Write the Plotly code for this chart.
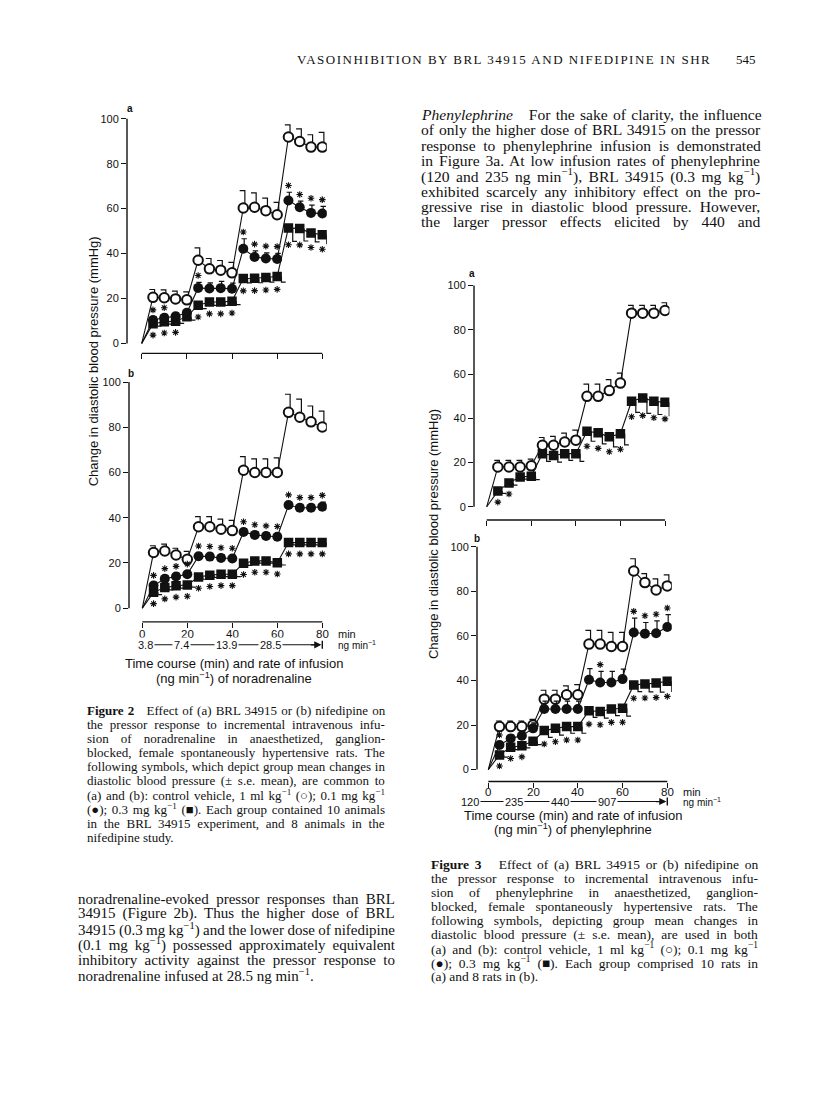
import re
import plotly.graph_objects as go

OFF = 8            # browser body margin
W, H = 800, 1080   # figure size placed at (8, 8) in the 816x1104 window

# ---------------- data ----------------
TIME = [5, 10, 15, 20, 25, 30, 35, 40, 45, 50, 55, 60, 65, 70, 75, 80]
TICKS_X = [0, 20, 40, 60, 80]
TICKS_Y = [0, 20, 40, 60, 80, 100]
NA_RATES = ["3.8", "7.4", "13.9", "28.5"]
NA_RATE_POS = [1.6, 17.2, 37.2, 57.0]
PE_RATES = ["120", "235", "440", "907"]
PE_RATE_POS = [-8.0, 11.5, 32.0, 53.0]

# Figure 2a (BRL 34915, noradrenaline)
ctrl_2a = [20.5, 20.3, 19.8, 19.4, 37.0, 33.2, 32.6, 31.4, 60.3, 60.6, 59.1, 57.3, 91.9, 89.9, 87.4, 87.4]
ctrl_2a_se = [3.5, 3.5, 3.5, 3.5, 5.5, 4.6, 4.3, 4.7, 7.7, 6.4, 5.6, 5.5, 5.4, 5.6, 5.5, 6.6]
lo_2a = [10.4, 11.4, 12.1, 13.6, 24.7, 24.4, 24.6, 24.3, 42.1, 38.5, 37.8, 37.6, 63.6, 60.6, 58.1, 57.8]
lo_2a_se = [1.5, 1.5, 1.5, 1.5, 2.5, 2.5, 3.0, 2.5, 4.5, 2.7, 2.5, 2.5, 3.7, 2.7, 3.5, 3.2]
lo_2a_sig = [1, 1, 0, 0, 1, 0, 0, 0, 1, 1, 1, 1, 1, 1, 1, 1]
hi_2a = [8.7, 9.6, 9.9, 11.9, 17.0, 18.4, 18.4, 18.8, 28.9, 29.0, 29.3, 29.8, 51.4, 51.1, 49.2, 48.4]
hi_2a_se = [1.0, 1.0, 1.0, 1.5, 1.5, 1.5, 1.5, 1.5, 2.0, 2.0, 2.0, 2.5, 6.0, 5.5, 4.0, 4.0]
hi_2a_sig = [1, 1, 1, 0, 1, 1, 1, 1, 1, 1, 1, 1, 1, 1, 1, 1]

# Figure 2b (nifedipine, noradrenaline)
ctrl_2b = [24.6, 25.3, 23.5, 21.6, 36.0, 36.0, 34.9, 34.3, 61.0, 60.0, 60.0, 60.0, 86.6, 84.4, 82.4, 80.1]
ctrl_2b_se = [3.0, 3.0, 3.0, 3.5, 4.5, 4.5, 4.5, 4.5, 6.0, 6.0, 6.0, 6.5, 8.0, 8.0, 7.0, 7.0]
lo_2b = [10.0, 13.0, 14.0, 15.0, 23.0, 22.8, 22.2, 22.0, 33.7, 32.4, 31.9, 31.6, 45.6, 44.4, 44.4, 44.9]
lo_2b_se = [1.5, 1.5, 1.5, 1.5, 1.5, 1.5, 1.5, 1.5, 1.5, 1.5, 1.5, 1.5, 1.5, 1.5, 1.5, 2.0]
lo_2b_sig = [1] * 16
hi_2b = [7.0, 9.1, 9.9, 10.3, 13.8, 14.6, 15.0, 15.0, 19.9, 20.9, 20.9, 20.1, 29.0, 29.0, 29.0, 29.0]
hi_2b_se = [1.0] * 16
hi_2b_sig = [1] * 16

# Figure 3a (BRL 34915, phenylephrine)
ctrl_3a = [18.0, 18.0, 18.0, 18.5, 27.8, 27.8, 29.3, 30.1, 49.9, 49.9, 52.5, 55.9, 87.5, 87.5, 87.5, 88.7]
ctrl_3a_se = [3.0, 3.0, 3.0, 3.0, 3.5, 4.0, 4.0, 4.5, 5.5, 5.5, 5.0, 4.5, 3.5, 3.5, 3.5, 3.5]
hi_3a = [7.1, 10.8, 13.5, 13.8, 24.0, 23.2, 24.0, 24.0, 34.1, 33.4, 31.6, 33.0, 47.7, 49.2, 47.7, 47.2]
hi_3a_se = [1.0, 1.0, 1.0, 1.5, 3.5, 3.0, 3.0, 3.5, 4.5, 5.0, 4.5, 5.0, 5.0, 7.0, 6.0, 6.0]
hi_3a_sig = [1, 1, 0, 0, 0, 0, 0, 0, 1, 1, 1, 1, 1, 1, 1, 1]

# Figure 3b (nifedipine, phenylephrine)
ctrl_3b = [19.3, 19.3, 19.3, 20.0, 31.6, 31.6, 33.6, 33.6, 56.3, 56.3, 55.2, 55.2, 89.1, 83.9, 80.6, 82.4]
ctrl_3b_se = [2.5, 2.5, 2.5, 2.5, 4.0, 4.0, 4.0, 4.5, 6.2, 6.2, 6.4, 6.4, 5.5, 4.0, 5.0, 5.0]
lo_3b = [11.0, 14.0, 15.2, 18.5, 27.2, 27.2, 27.2, 27.2, 40.3, 39.1, 39.1, 40.6, 61.5, 61.0, 61.2, 64.0]
lo_3b_se = [1.5, 1.5, 2.0, 2.5, 3.5, 3.5, 3.5, 3.5, 5.0, 5.0, 5.0, 4.5, 6.5, 5.0, 5.5, 5.5]
lo_3b_sig = [1, 0, 0, 0, 0, 0, 0, 0, 0, 1, 0, 0, 1, 1, 1, 1]
hi_3b = [6.6, 10.0, 10.7, 12.7, 17.5, 18.5, 19.3, 19.3, 26.4, 26.1, 27.2, 27.5, 38.0, 38.4, 38.8, 39.6]
hi_3b_se = [1.0, 1.0, 1.0, 1.5, 3.0, 3.0, 3.0, 3.0, 3.0, 3.0, 3.0, 3.5, 3.0, 3.5, 4.0, 4.5]
hi_3b_sig = [1, 1, 1, 0, 1, 1, 1, 1, 1, 1, 1, 1, 1, 1, 1, 1]

# ---------------- layout geometry (reference-page pixels) ----------------
PANELS = {
    "2a": dict(n="", x0=141.7, x80=322.3, y0=342.0, y100=117.0, axis=127.0, brk=352.0),
    "2b": dict(n="2", x0=142.3, x80=322.3, y0=607.3, y100=380.7, axis=129.0, brk=621.0),
    "3a": dict(n="3", x0=486.7, x80=665.0, y0=505.7, y100=284.0, axis=474.0, brk=519.0),
    "3b": dict(n="4", x0=488.3, x80=667.3, y0=769.0, y100=545.7, axis=477.0, brk=781.0),
}


def py(p):
    return 1 - (p - OFF) / H


def pxf(p):
    return (p - OFF) / W


def xpix(panel, t):
    p = PANELS[panel]
    return p["x0"] + t * (p["x80"] - p["x0"]) / 80.0


fig = go.Figure()
layout = dict(width=W, height=H, margin=dict(l=0, r=0, t=0, b=0),
              paper_bgcolor="white", plot_bgcolor="white", showlegend=False)
shapes, annotations = [], []
INK = "#111"
SANS = "Liberation Sans, Arial"
SERIF = "Liberation Serif, Times New Roman"
TICKFONT = dict(family=SANS, size=11, color=INK)

for key, p in PANELS.items():
    sx = (p["x80"] - p["x0"]) / 80.0
    sy = (p["y0"] - p["y100"]) / 100.0
    right = p["x0"] + 82 * sx
    top = p["y100"] - 2 * sy
    xr = [(p["axis"] - p["x0"]) / sx, 82]
    yr = [-(p["brk"] - p["y0"]) / sy, 102]
    n = p["n"]
    layout["xaxis" + n] = dict(domain=[pxf(p["axis"]), pxf(right)], range=xr,
                              anchor="y" + n, showgrid=False, zeroline=False, showline=False,
                              tickmode="array", tickvals=TICKS_X, ticks="outside", ticklen=5,
                              tickwidth=1.3, tickcolor=INK, showticklabels=False)
    layout["yaxis" + n] = dict(domain=[py(p["brk"]), py(top)], range=yr,
                              anchor="x" + n, showgrid=False, zeroline=False, showline=False,
                              tickmode="array", tickvals=TICKS_Y, ticks="outside", ticklen=5,
                              tickwidth=1.3, tickcolor=INK, tickfont=TICKFONT)
    shapes.append(dict(type="line", xref=("x%s domain" % n) if n else "x domain", yref="y" + n,
                       x0=0, x1=0, y0=0, y1=100, line=dict(color=INK, width=1.4)))
    shapes.append(dict(type="line", xref="x" + n, yref=("y%s domain" % n) if n else "y domain",
                       x0=0, x1=80, y0=0, y1=0, line=dict(color=INK, width=1.4)))


def add_series(n, vals, ses, kind, sig):
    xa, ya = "x" + n, "y" + n
    fig.add_trace(go.Scatter(x=[0] + TIME, y=[0] + vals, mode="lines",
                             line=dict(color=INK, width=1.1), xaxis=xa, yaxis=ya,
                             hoverinfo="skip"))
    ex, ey = [], []
    for t, v, e in zip(TIME, vals, ses):
        if kind == "open":
            ex += [t + 0.7, t + 0.7, t - 1.6, None]
            ey += [v, v + e, v + e, None]
        elif kind == "filled":
            ex += [t + 0.4, t + 0.4, t - 0.8, t + 1.6, None]
            ey += [v, v + e, v + e, v + e, None]
        else:
            ex += [t + 1.9, t + 1.9, t + 3.8, None]
            ey += [v, v - e, v - e, None]
    fig.add_trace(go.Scatter(x=ex, y=ey, mode="lines", line=dict(color=INK, width=1.2),
                             xaxis=xa, yaxis=ya, hoverinfo="skip"))
    if kind == "open":
        mk = dict(symbol="circle", size=9.5, color="white", line=dict(color=INK, width=2))
    elif kind == "filled":
        mk = dict(symbol="circle", size=10, color=INK, line=dict(color=INK, width=0))
    else:
        mk = dict(symbol="square", size=9.5, color=INK, line=dict(color=INK, width=0))
    fig.add_trace(go.Scatter(x=TIME, y=vals, mode="markers", marker=mk,
                             xaxis=xa, yaxis=ya, hoverinfo="skip"))
    if sig is not None:
        sxs, sys = [], []
        for t, v, e, s in zip(TIME, vals, ses, sig):
            if s:
                sxs.append(t)
                sys.append(v + e + 3.0 if kind == "filled" else v - 4.5 - 0.5 * e)
        fig.add_trace(go.Scatter(x=sxs, y=sys, mode="markers",
                                 marker=dict(symbol="asterisk-open", size=5.5, color=INK,
                                             line=dict(color=INK, width=1.1)),
                                 xaxis=xa, yaxis=ya, hoverinfo="skip"))


add_series("", ctrl_2a, ctrl_2a_se, "open", None)
add_series("", hi_2a, hi_2a_se, "square", hi_2a_sig)
add_series("", lo_2a, lo_2a_se, "filled", lo_2a_sig)

add_series("2", ctrl_2b, ctrl_2b_se, "open", None)
add_series("2", hi_2b, hi_2b_se, "square", hi_2b_sig)
add_series("2", lo_2b, lo_2b_se, "filled", lo_2b_sig)

add_series("3", ctrl_3a, ctrl_3a_se, "open", None)
add_series("3", hi_3a, hi_3a_se, "square", hi_3a_sig)

add_series("4", ctrl_3b, ctrl_3b_se, "open", None)
add_series("4", hi_3b, hi_3b_se, "square", hi_3b_sig)
add_series("4", lo_3b, lo_3b_se, "filled", lo_3b_sig)


def ann(text, x, y, size, family=SERIF, xanchor="left", **kw):
    d = dict(text=text, x=pxf(x), y=py(y), xref="paper", yref="paper", xanchor=xanchor,
             yanchor="middle", showarrow=False, borderpad=0,
             font=dict(family=family, size=size, color=INK))
    d.update(kw)
    annotations.append(d)


# ---- Times metrics for justification ----
TW = {' ': 250, '\u00a0': 250, '!': 333, '(': 333, ')': 333, ',': 250, '-': 333, '.': 250,
      ':': 278, ';': 278, '±': 564, '−': 564, '○': 604, '●': 604, '■': 604, "'": 180}
for c in "0123456789":
    TW[c] = 500
for c, w in zip("ABCDEFGHIJKLMNOPQRSTUVWXYZ",
                [722, 667, 667, 722, 611, 556, 722, 722, 333, 389, 722, 611, 889, 722, 722, 556,
                 722, 667, 556, 611, 722, 722, 944, 722, 722, 611]):
    TW[c] = w
for c, w in zip("abcdefghijklmnopqrstuvwxyz",
                [444, 500, 444, 500, 444, 333, 500, 500, 278, 278, 500, 278, 778, 500, 500, 500,
                 500, 333, 389, 278, 500, 500, 722, 500, 500, 444]):
    TW[c] = w


def natural(html, size):
    width, spaces = 0.0, 0
    sup = bold = False
    for tok in re.split(r"(<[^>]+>)", html):
        if tok.startswith("<"):
            tag = tok.strip("<>/").split()[0]
            on = not tok.startswith("</")
            if tag == "sup":
                sup = on
            elif tag == "b":
                bold = on
            continue
        for ch in tok:
            f = 0.7 if sup else 1.0
            if bold:
                f *= 1.04
            width += TW.get(ch, 500) * size / 1000.0 * f
            if ch in " \u00a0":
                spaces += 1
    return width, spaces


def paragraph(lines, x, y0, dy, size, target, justify_last):
    for i, s in enumerate(lines):
        txt = s
        last = i == len(lines) - 1
        if justify_last or not last:
            w, ns = natural(s, size)
            if ns:
                ws = (target - w) / ns
                txt = '<span style="word-spacing:%.2fpx">%s</span>' % (ws, s)
        ann(txt, x, y0 + dy * i, size)


# panel letters
ann("<b>a</b>", 130, 107, 10, SANS, "center")
ann("<b>b</b>", 130.5, 372, 10, SANS, "center")
ann("<b>a</b>", 472, 272, 10, SANS, "center")
ann("<b>b</b>", 477, 537, 10, SANS, "center")

# y-axis titles
ann("Change in diastolic blood pressure (mmHg)", 93, 360, 13, SANS, "center", textangle=-90)
ann("Change in diastolic blood pressure (mmHg)", 433, 533, 13, SANS, "center", textangle=-90)


def x_labels(panel, y_px, unit_x):
    for t in TICKS_X:
        ann(str(t), xpix(panel, t), y_px, 11.5, SANS, "center")
    ann("min", unit_x, y_px, 11, SANS)


def rate_row(panel, rates, pos, y_px, unit_x):
    x_start = xpix(panel, pos[0])
    x_end = xpix(panel, 78.5)
    shapes.append(dict(type="line", xref="paper", yref="paper", x0=pxf(x_start), x1=pxf(x_end),
                       y0=py(y_px), y1=py(y_px), line=dict(color=INK, width=1.1),
                       layer="below"))
    for r, ps in zip(rates, pos):
        ann(r, xpix(panel, ps), y_px, 11, SANS, "center", bgcolor="white", borderpad=1)
    x80 = xpix(panel, 80)
    annotations.append(dict(text="", x=pxf(x80 - 0.9), y=py(y_px), xref="paper", yref="paper",
                            showarrow=True, ax=-12, ay=0, arrowhead=2, arrowsize=1.1,
                            arrowwidth=1.3, arrowcolor=INK))
    shapes.append(dict(type="line", xref="paper", yref="paper", x0=pxf(x80), x1=pxf(x80),
                       y0=py(y_px + 4), y1=py(y_px - 4), line=dict(color=INK, width=1.4)))
    ann("ng min<sup>−1</sup>", unit_x, y_px, 10, SANS)


# figure 2 x labels
x_labels("2b", 633, 337)
rate_row("2b", NA_RATES, NA_RATE_POS, 644, 337)
ann("Time course (min) and rate of infusion", 234, 663, 13, SANS, "center")
ann("(ng min<sup>−1</sup>) of noradrenaline", 234, 677, 13, SANS, "center")

# figure 3 x labels
x_labels("3b", 791, 682)
rate_row("3b", PE_RATES, PE_RATE_POS, 801, 682)
ann("Time course (min) and rate of infusion", 573, 815, 13, SANS, "center")
ann("(ng min<sup>−1</sup>) of phenylephrine", 573, 829, 13, SANS, "center")

# page header
ann('<span style="letter-spacing:1.5px">VASOINHIBITION BY BRL 34915 AND NIFEDIPINE IN SHR</span>',
    296, 58, 13, SERIF)
ann("545", 735, 58, 13, SERIF)

BODY_R = [
    "<i>Phenylephrine</i>\u00a0\u00a0 For the sake of clarity, the influence",
    "of only the higher dose of BRL 34915 on the pressor",
    "response to phenylephrine infusion is demonstrated",
    "in Figure 3a. At low infusion rates of phenylephrine",
    "(120 and 235 ng min<sup>−1</sup>), BRL 34915 (0.3 mg kg<sup>−1</sup>)",
    "exhibited scarcely any inhibitory effect on the pro-",
    "gressive rise in diastolic blood pressure. However,",
    "the larger pressor effects elicited by 440 and",
]
paragraph(BODY_R, 420, 112.7, 15.37, 15.6, 340, True)

CAP2 = [
    "<b>Figure 2</b>\u00a0\u00a0 Effect of (a) BRL 34915 or (b) nifedipine on",
    "the pressor response to incremental intravenous infu-",
    "sion of noradrenaline in anaesthetized, ganglion-",
    "blocked, female spontaneously hypertensive rats. The",
    "following symbols, which depict group mean changes in",
    "diastolic blood pressure (± s.e. mean), are common to",
    "(a) and (b): control vehicle, 1 ml kg<sup>−1</sup> (○); 0.1 mg kg<sup>−1</sup>",
    "(●); 0.3 mg kg<sup>−1</sup> (■). Each group contained 10 animals",
    "in the BRL 34915 experiment, and 8 animals in the",
    "nifedipine study.",
]
paragraph(CAP2, 86, 710, 14.08, 13, 298, False)

BODY_L = [
    "noradrenaline-evoked pressor responses than BRL",
    "34915 (Figure 2b). Thus the higher dose of BRL",
    "34915 (0.3 mg kg<sup>−1</sup>) and the lower dose of nifedipine",
    "(0.1 mg kg<sup>−1</sup>) possessed approximately equivalent",
    "inhibitory activity against the pressor response to",
    "noradrenaline infused at 28.5 ng min<sup>−1</sup>.",
]
paragraph(BODY_L, 77, 898.3, 15.35, 15, 317, False)

CAP3 = [
    "<b>Figure 3</b>\u00a0\u00a0 Effect of (a) BRL 34915 or (b) nifedipine on",
    "the pressor response to incremental intravenous infu-",
    "sion of phenylephrine in anaesthetized, ganglion-",
    "blocked, female spontaneously hypertensive rats. The",
    "following symbols, depicting group mean changes in",
    "diastolic blood pressure (± s.e. mean), are used in both",
    "(a) and (b): control vehicle, 1 ml kg<sup>−1</sup> (○); 0.1 mg kg<sup>−1</sup>",
    "(●); 0.3 mg kg<sup>−1</sup> (■). Each group comprised 10 rats in",
    "(a) and 8 rats in (b).",
]
paragraph(CAP3, 430, 864.3, 14.0, 13.5, 327, False)

layout["shapes"] = shapes
layout["annotations"] = annotations
fig.update_layout(**layout)
fig.write_html("out.html")
